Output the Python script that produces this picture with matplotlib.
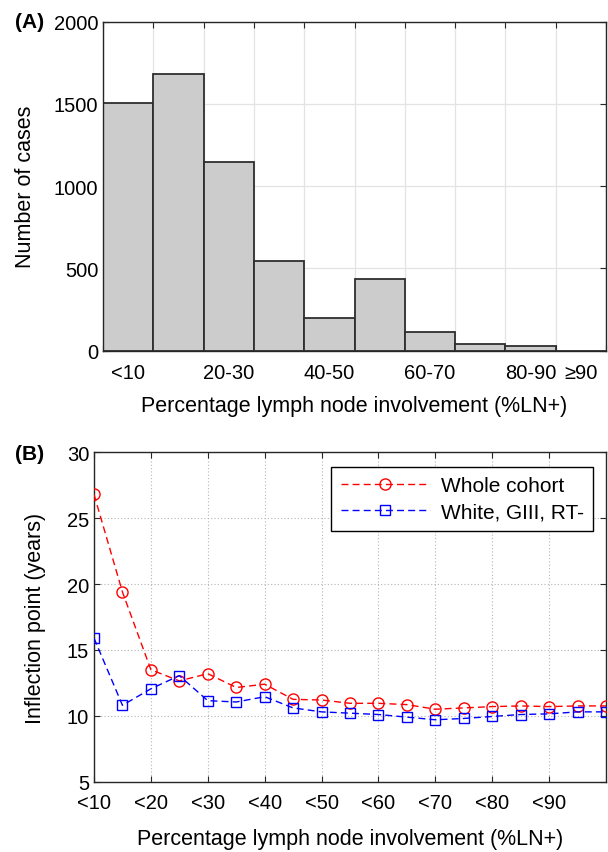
import numpy as np
import matplotlib
matplotlib.use("Agg")
import matplotlib.pyplot as plt
from matplotlib.ticker import FixedLocator, NullFormatter

plt.rcParams['font.family'] = ['Liberation Sans', 'DejaVu Sans']

# Panel A: histogram of %LN+ categories
bin_labels = ['<10', '10-20', '20-30', '30-40', '40-50', '50-60',
              '60-70', '70-80', '80-90', '\u226590']
case_counts = [1504, 1680, 1148, 547, 200, 433, 113, 42, 26, 0]
shown_bins = ['<10', '20-30', '40-50', '60-70', '80-90', '\u226590']

# Panel B: inflection point vs %LN+ threshold
thresholds = [10, 15, 20, 25, 30, 35, 40, 45, 50, 55, 60, 65, 70, 75, 80, 85, 90, 95, 100]
whole_cohort = [26.8, 19.4, 13.5, 12.65, 13.2, 12.15, 12.4, 11.25, 11.2, 10.95,
                10.95, 10.85, 10.5, 10.6, 10.7, 10.75, 10.7, 10.75, 10.75]
white_giii_rt = [15.9, 10.8, 12.05, 13.05, 11.15, 11.05, 11.45, 10.6, 10.3, 10.2,
                 10.1, 9.9, 9.7, 9.8, 9.95, 10.1, 10.15, 10.3, 10.3]
thr_ticks = [10, 20, 30, 40, 50, 60, 70, 80, 90]
thr_labels = ['<10', '<20', '<30', '<40', '<50', '<60', '<70', '<80', '<90']

W, H = 608, 853
fig = plt.figure(figsize=(W / 100, H / 100), dpi=100)
fs = 15
ax_col = '#262626'

def frame(ax):
    for s in ax.spines.values():
        s.set_color(ax_col)
        s.set_linewidth(1.0)
    ax.tick_params(which='both', direction='in', top=True, right=True,
                   colors=ax_col, labelcolor='black', labelsize=fs - 0.5,
                   length=4, width=0.8)

# ---- (A)
axA = fig.add_axes([103 / W, 1 - 351.7 / H, 503 / W, (351.7 - 22.7) / H])
pos = np.arange(len(bin_labels))
axA.bar(pos, case_counts, width=1.0, align='edge', color='#cccccc',
        edgecolor='#2e2e2e', linewidth=1.3, zorder=2)
axA.set_xlim(0, len(bin_labels))
axA.set_ylim(0, 2000)
axA.set_yticks([0, 500, 1000, 1500, 2000])
axA.xaxis.set_major_locator(FixedLocator(np.arange(0, len(bin_labels) + 1)))
axA.xaxis.set_major_formatter(NullFormatter())
centers = [bin_labels.index(b) + 0.5 for b in shown_bins]
axA.set_xticks(centers, minor=True)
axA.set_xticklabels(shown_bins, minor=True)
axA.grid(True, which='major', color='#e3e3e3', linewidth=0.9, zorder=0)
axA.set_axisbelow(True)
frame(axA)
axA.tick_params(axis='x', which='minor', length=0, pad=9)
axA.set_xlabel('Percentage lymph node involvement (%LN+)', fontsize=fs + 0.5, labelpad=9)
axA.set_ylabel('Number of cases', fontsize=fs + 0.5)
axA.yaxis.set_label_coords(-0.133, 0.5)
fig.text(15 / W, 1 - 22.7 / H, '(A)', fontsize=fs, fontweight='bold', va='center', ha='left')

# ---- (B)
axB = fig.add_axes([94 / W, 1 - 782.7 / H, 512 / W, (782.7 - 453.3) / H])
axB.plot(thresholds, whole_cohort, color='#ff0000', linestyle=(0, (5, 3)), linewidth=1.0,
         marker='o', markersize=8, markerfacecolor='none', markeredgewidth=1.0,
         label='Whole cohort', zorder=3)
axB.plot(thresholds, white_giii_rt, color='#0000ff', linestyle=(0, (5, 3)), linewidth=1.0,
         marker='s', markersize=7, markerfacecolor='none', markeredgewidth=1.0,
         label='White, GIII, RT-', zorder=3)
axB.set_xlim(10, 100)
axB.set_ylim(5, 30)
axB.set_yticks([5, 10, 15, 20, 25, 30])
axB.set_xticks(thr_ticks)
axB.set_xticklabels(thr_labels)
axB.grid(True, color='#b5b5b5', linestyle=(0, (1, 2)), linewidth=0.8)
frame(axB)
axB.tick_params(axis='x', pad=8)
axB.set_xlabel('Percentage lymph node involvement (%LN+)', fontsize=fs + 0.5, labelpad=12)
axB.set_ylabel('Inflection point (years)', fontsize=fs + 0.5)
axB.yaxis.set_label_coords(-0.0945, 0.5)
leg = axB.legend(loc='upper right', bbox_to_anchor=(593 / W, 1 - 468 / H),
                 bbox_transform=fig.transFigure, fontsize=fs, frameon=True,
                 fancybox=False, edgecolor='black', framealpha=1, numpoints=1,
                 handlelength=4.3, handletextpad=0.5, borderaxespad=0,
                 borderpad=0.45, labelspacing=0.35)
leg.get_frame().set_linewidth(1.0)
fig.text(15 / W, 1 - 455 / H, '(B)', fontsize=fs, fontweight='bold', va='center', ha='left')

fig.savefig('out.png', dpi=100)
